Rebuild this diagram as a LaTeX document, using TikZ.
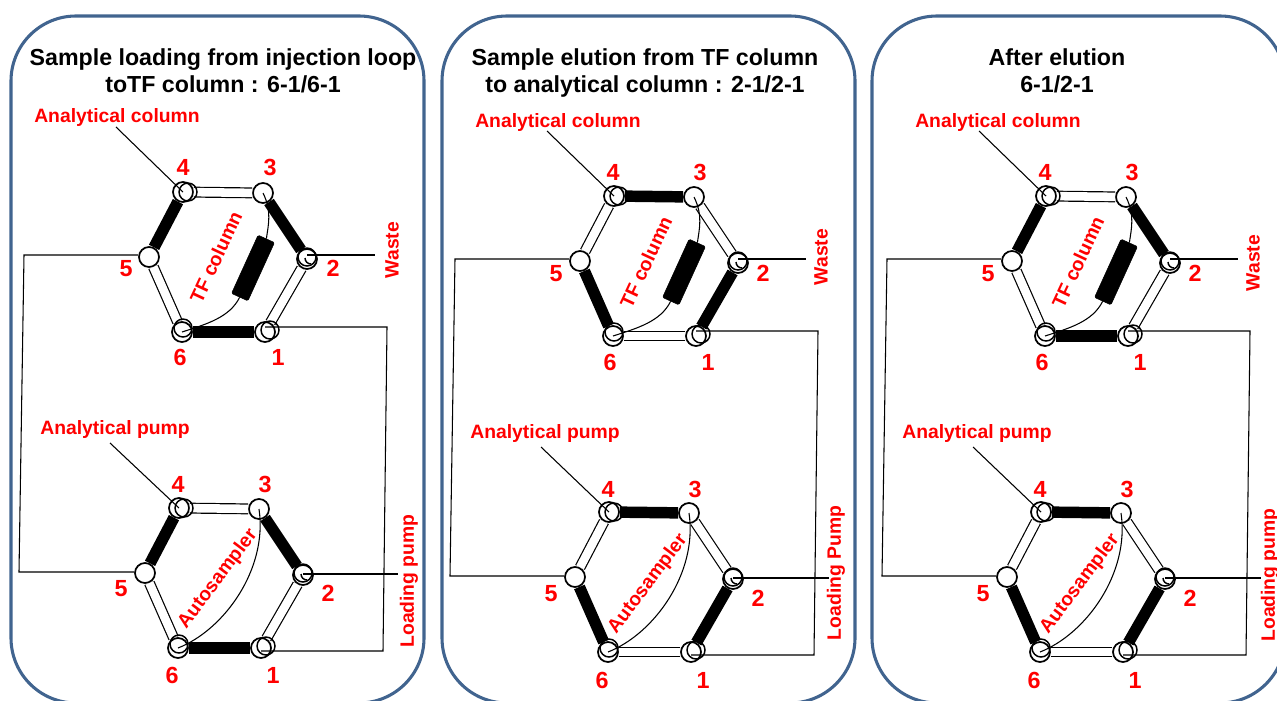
\documentclass[tikz,border=0pt]{standalone}
\usepackage{fontspec}
\setmainfont{Liberation Sans}
\definecolor{panelblue}{HTML}{41648F}
\tikzset{
  x=0.75pt,y=-0.75pt,
  panelbox/.style={draw=panelblue,line width=2.3pt,rounded corners=48.75pt},
  titletext/.style={font=\fontsize{17.4}{20.25}\selectfont\bfseries,align=center,text=black,inner sep=0pt},
  redtext/.style={font=\fontsize{14.5}{16}\selectfont\bfseries,text=red,inner sep=0pt},
  numtext/.style={font=\fontsize{17.5}{18}\selectfont\bfseries,text=red,inner sep=0pt},
  port/.style={circle,draw=black,fill=white,line width=1.3pt,minimum size=15pt,inner sep=0pt},
  ring/.style={draw=black,line width=1.1pt},
  wire/.style={draw=black,line width=0.8pt},
  solidseg/.style={draw=black,line width=8.6pt},
  openseg/.style={draw=black,line width=0.9pt,double=white,double distance=6.4pt},
  colbar/.style={draw=black,fill=black,rounded corners=1pt,minimum width=48pt,minimum height=13.5pt,inner sep=0pt},
}
% #1 prefix, #2 dx, #3 dy, #4..#9 style of segments 43,32,21,16,65,54
\newcommand{\valvehex}[9]{%
  \node[port] (#1p4) at ({183+#2},{192+#3}) {};
  \node[port] (#1p3) at ({263+#2},{193+#3}) {};
  \node[port] (#1p2) at ({307+#2},{259+#3}) {};
  \node[port] (#1p1) at ({265+#2},{332+#3}) {};
  \node[port] (#1p6) at ({182+#2},{332+#3}) {};
  \node[port] (#1p5) at ({149+#2},{257+#3}) {};
  \draw[#4] (#1p4) -- (#1p3);
  \draw[#5] (#1p3) -- (#1p2);
  \draw[#6] (#1p2) -- (#1p1);
  \draw[#7] (#1p1) -- (#1p6);
  \draw[#8] (#1p6) -- (#1p5);
  \draw[#9] (#1p5) -- (#1p4);
  \draw[ring] (#1p4) ++(5,0) circle[radius=9];
  \draw[ring] (#1p2) ++(0,-2) circle[radius=9];
  \draw[ring] (#1p2) ++(-2,-1) arc[start angle=180,end angle=90,radius=6];
  \draw[ring] (#1p1) ++(5,-2) circle[radius=9];
  \draw[ring] (#1p6) ++(1,-4) circle[radius=9];
}
\newcommand{\toplabels}[2]{%
  \node[numtext] at ({183+#1},{167+#2}) {4};
  \node[numtext] at ({270+#1},{167+#2}) {3};
  \node[numtext] at ({333+#1},{268+#2}) {2};
  \node[numtext] at ({278+#1},{357+#2}) {1};
  \node[numtext] at ({180+#1},{357+#2}) {6};
  \node[numtext] at ({126+#1},{269+#2}) {5};
  \node[redtext,rotate=65] at ({216+#1},{257+#2}) {TF column};
}
\newcommand{\botlabels}[2]{%
  \node[numtext] at ({178+#1},{484+#2}) {4};
  \node[numtext] at ({265+#1},{484+#2}) {3};
  \node[numtext] at ({328+#1},{593+#2}) {2};
  \node[numtext] at ({273+#1},{675+#2}) {1};
  \node[numtext] at ({172+#1},{675+#2}) {6};
  \node[numtext] at ({121+#1},{589+#2}) {5};
  \node[redtext,rotate=53] at ({218+#1},{579+#2}) {Autosampler};
}
% #1 top prefix, #2 bottom prefix, #3 dx, #4 dy
\newcommand{\plumbing}[4]{%
  \node[colbar,rotate=65.5] (#1col) at ({253+#3},{268+#4}) {};
  \draw[wire] (#1p3.center) .. controls +(9,18) and +(2,-14) .. (#1col.east);
  \draw[wire] (#1col.west) .. controls +(-10,20) and +(25,-8) .. (#1p6.center);
  \draw[wire] (#2p3.center) .. controls +(9,60) and +(46,-18) .. (#2p6.center);
  \coordinate (#1a) at ({116+#3},{127+#4});
  \draw[wire] (#1a) -- (#1p4.center);
  \coordinate (#2a) at ({110+#3},{443+#4});
  \draw[wire] (#2a) -- (#2p4.center);
  \coordinate (#1w) at ({375+#3},{255+#4});
  \draw[wire] (#1p2.center |- #1w) -- (#1w);
  \coordinate (#2w) at ({398+#3},{574+#4});
  \draw[wire] (#2p2.center |- #2w) -- (#2w);
  \coordinate (#1x) at ({24+#3},{255+#4});
  \coordinate (#2x) at ({19+#3},{572+#4});
  \draw[wire] (#1p5.west |- #1x) -- (#1x) -- (#2x) -- (#2p5.west |- #2x);
  \coordinate (#1y) at ({387+#3},{327+#4});
  \coordinate (#2y) at ({383+#3},{651+#4});
  \draw[wire] (#1p1.center |- #1y) -- (#1y) -- (#2y) -- (#2p1.center |- #2y);
}
\begin{document}
\begin{tikzpicture}
\clip (0,0) rectangle (1277,700);
\fill[white] (0,0) rectangle (1277,700);
% panels
\draw[panelbox] (11,16) rectangle (424,703);
\draw[panelbox] (442,16) rectangle (855,703);
\draw[panelbox] (872,16) rectangle (1285,703);
% titles
\node[titletext] at (223,71) {Sample loading from injection loop\\toTF column : 6-1/6-1};
\node[titletext] at (645,73) {Sample elution from TF column\\to analytical column : 2-1/2-1};
\node[titletext] at (1057,71) {After elution\\6-1/2-1};
% valves
\valvehex{a}{0}{0}{openseg}{solidseg}{openseg}{solidseg}{openseg}{solidseg}
\valvehex{b}{-4}{316}{openseg}{solidseg}{openseg}{solidseg}{openseg}{solidseg}
\valvehex{c}{431}{4}{solidseg}{openseg}{solidseg}{openseg}{solidseg}{openseg}
\valvehex{d}{426}{320}{solidseg}{openseg}{solidseg}{openseg}{solidseg}{openseg}
\valvehex{e}{863}{4}{openseg}{solidseg}{openseg}{solidseg}{openseg}{solidseg}
\valvehex{f}{858}{320}{solidseg}{openseg}{solidseg}{openseg}{solidseg}{openseg}
\plumbing{a}{b}{0}{0}
\plumbing{c}{d}{431}{4}
\plumbing{e}{f}{863}{4}
% labels
\toplabels{0}{0}\botlabels{0}{0}
\toplabels{430}{5}\botlabels{430}{5}
\toplabels{862}{5}\botlabels{862}{5}
\node[redtext] at (117,117) {Analytical column};
\node[redtext] at (558,122) {Analytical column};
\node[redtext] at (998,122) {Analytical column};
\node[redtext] at (115,429) {Analytical pump};
\node[redtext] at (545,433) {Analytical pump};
\node[redtext] at (977,433) {Analytical pump};
\node[redtext,rotate=90] at (392,250) {Waste};
\node[redtext,rotate=90] at (821,257) {Waste};
\node[redtext,rotate=90] at (1253,263) {Waste};
\node[redtext,rotate=90] at (409,581) {Loading pump};
\node[redtext,rotate=90] at (836,573) {Loading Pump};
\node[redtext,rotate=90] at (1270,575) {Loading pump};
\end{tikzpicture}
\end{document}
